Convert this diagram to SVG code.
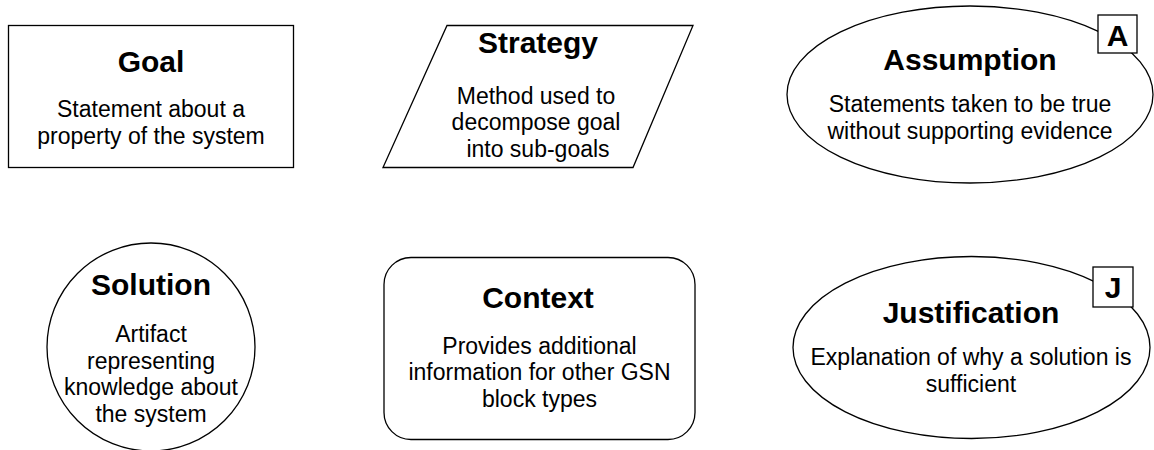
<svg xmlns="http://www.w3.org/2000/svg" width="1154" height="450" viewBox="0 0 1154 450">
<style>
.shape{fill:#fff;stroke:#000;stroke-width:1.3}
.t{font-family:"Liberation Sans",Arial,sans-serif;font-weight:bold;font-size:30px;text-anchor:middle;fill:#000}
.b{font-family:"Liberation Sans",Arial,sans-serif;font-size:23px;text-anchor:middle;fill:#000}
</style>
<rect width="1154" height="450" fill="#fff"/>
<g id="connectors"></g>
<g id="goal">
<rect class="shape" x="8.5" y="25.5" width="285" height="142"/>
<text class="t" x="151" y="72">Goal</text>
<text class="b" x="151" y="117">Statement about a</text>
<text class="b" x="151" y="143.5">property of the system</text>
</g>
<g id="strategy">
<polygon class="shape" points="447,25.5 693,25.5 633,167.5 383,167.5"/>
<text class="t" x="538" y="53">Strategy</text>
<text class="b" x="536" y="103.5">Method used to</text>
<text class="b" x="536" y="130">decompose goal</text>
<text class="b" x="538" y="156.5">into sub-goals</text>
</g>
<g id="assumption">
<ellipse class="shape" cx="970" cy="94.5" rx="183" ry="88.5"/>
<text class="t" x="970" y="70">Assumption</text>
<text class="b" x="970" y="112">Statements taken to be true</text>
<text class="b" x="970" y="138.5">without supporting evidence</text>
<rect class="shape" x="1098" y="15" width="39" height="38"/>
<text class="t" x="1117.5" y="45.5">A</text>
</g>
<g id="solution">
<circle class="shape" cx="151" cy="347" r="104"/>
<text class="t" x="151" y="295">Solution</text>
<text class="b" x="151" y="342">Artifact</text>
<text class="b" x="151" y="368.5">representing</text>
<text class="b" x="151" y="395">knowledge about</text>
<text class="b" x="151" y="421.5">the system</text>
</g>
<g id="context">
<rect class="shape" x="384" y="257.5" width="311" height="182" rx="27" ry="27"/>
<text class="t" x="538" y="308">Context</text>
<text class="b" x="539.5" y="353.5">Provides additional</text>
<text class="b" x="539.5" y="380">information for other GSN</text>
<text class="b" x="539.5" y="406.5">block types</text>
</g>
<g id="justification">
<ellipse class="shape" cx="971.5" cy="347.5" rx="178.5" ry="91"/>
<text class="t" x="971" y="323">Justification</text>
<text class="b" x="971" y="365">Explanation of why a solution is</text>
<text class="b" x="971" y="391.5">sufficient</text>
<rect class="shape" x="1093" y="267" width="40" height="40"/>
<text class="t" x="1113" y="298">J</text>
</g>
</svg>
